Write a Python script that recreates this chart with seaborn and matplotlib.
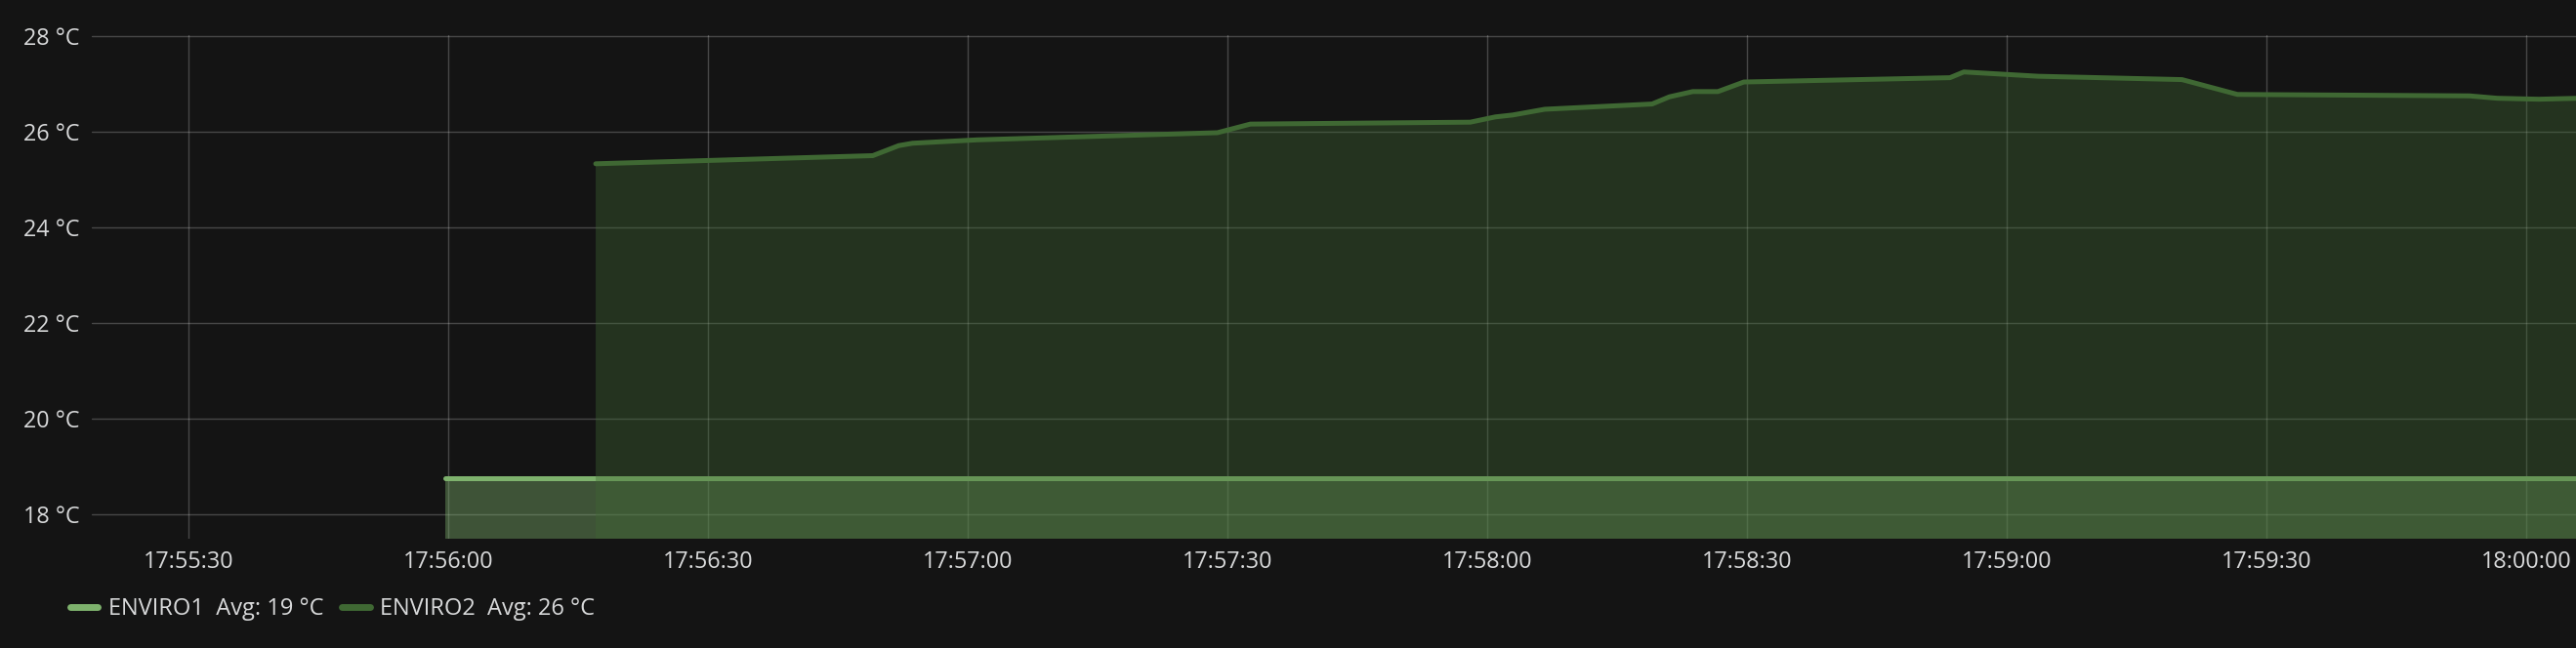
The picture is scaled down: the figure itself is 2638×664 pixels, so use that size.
import matplotlib
matplotlib.use("Agg")
import matplotlib.pyplot as plt
import matplotlib.dates as mdates
from matplotlib.lines import Line2D
import pandas as pd
import seaborn as sns

# Series (time of day, °C)
enviro1_times = ["17:55:59.6", "17:57:00.0", "17:58:00.0", "17:59:00.0", "18:00:06.0"]
enviro1_temps = [18.75, 18.75, 18.75, 18.75, 18.75]

enviro2_times = ["17:56:17.0", "17:56:49.0", "17:56:52.0", "17:56:53.6", "17:57:01.0",
                 "17:57:28.8", "17:57:32.6", "17:57:58.0", "17:58:00.9", "17:58:02.9",
                 "17:58:06.6", "17:58:19.0", "17:58:21.0", "17:58:23.7", "17:58:26.6",
                 "17:58:29.6", "17:58:53.4", "17:58:55.0", "17:59:03.6", "17:59:20.2",
                 "17:59:26.6", "17:59:53.4", "17:59:56.6", "18:00:01.4", "18:00:06.0"]
enviro2_temps = [25.33, 25.50, 25.71, 25.76, 25.83,
                 25.98, 26.16, 26.20, 26.31, 26.35,
                 26.47, 26.58, 26.73, 26.84, 26.84,
                 27.04, 27.13, 27.25, 27.16, 27.09,
                 26.78, 26.75, 26.70, 26.68, 26.70]

legend_labels = ["ENVIRO1  Avg: 19 °C", "ENVIRO2  Avg: 26 °C"]
y_ticks = [18, 20, 22, 24, 26, 28]

day = "2017-06-01 "
df1 = pd.DataFrame({"time": pd.to_datetime([day + t for t in enviro1_times], format="mixed"),
                    "temp": enviro1_temps})
df2 = pd.DataFrame({"time": pd.to_datetime([day + t for t in enviro2_times], format="mixed"),
                    "temp": enviro2_temps})

bg = "#141414"
text_color = "#d8d9da"
c1 = "#7eb26d"
c2 = "#3f6833"

sns.set_style("dark")
plt.rcParams["font.family"] = ["Open Sans", "DejaVu Sans"]

fig = plt.figure(figsize=(26.38, 6.64), dpi=100, facecolor=bg)
ax = fig.add_axes([94 / 2638, 1 - 552 / 664, 1 - 94 / 2638, (552 - 36) / 664])
ax.set_facecolor(bg)

# fills and lines
ax.fill_between(df1["time"], df1["temp"], 0, color=c1, alpha=0.4, linewidth=0, zorder=1)
sns.lineplot(data=df1, x="time", y="temp", ax=ax, color=c1, linewidth=3.6, legend=False, zorder=2)
ax.fill_between(df2["time"], df2["temp"], 0, color=c2, alpha=0.38, linewidth=0, zorder=3)
sns.lineplot(data=df2, x="time", y="temp", ax=ax, color=c2, linewidth=3.6, legend=False, zorder=4)

ax.set_xlim(pd.Timestamp(day + "17:55:18.8"), pd.Timestamp(day + "18:00:05.7"))
ax.set_ylim(17.49, 28.02)
ax.set_yticks(y_ticks)
ax.set_yticklabels([f"{v} °C" for v in y_ticks])
ax.xaxis.set_major_locator(mdates.SecondLocator(bysecond=[0, 30]))
ax.xaxis.set_major_formatter(mdates.DateFormatter("%H:%M:%S"))

ax.set_axisbelow(True)
ax.grid(True, color="#ffffff", alpha=0.22, linewidth=1.0)
for s in ax.spines.values():
    s.set_visible(False)
ax.tick_params(axis="both", length=0, colors=text_color, labelsize=16.8)
ax.tick_params(axis="x", pad=9)
ax.tick_params(axis="y", pad=9)
ax.set_xlabel("")
ax.set_ylabel("")

handles = [Line2D([0], [0], color=c1, linewidth=5, solid_capstyle="round"),
           Line2D([0], [0], color=c2, linewidth=5, solid_capstyle="round")]
fig.legend(handles, legend_labels, loc="center left", bbox_to_anchor=(72 / 2638, 1 - 624 / 664),
           ncol=2, frameon=False, fontsize=17, labelcolor=text_color, borderpad=0,
           borderaxespad=0, handlelength=1.2, handletextpad=0.45, columnspacing=0.8)

fig.savefig("out.png", dpi=100, facecolor=bg)
